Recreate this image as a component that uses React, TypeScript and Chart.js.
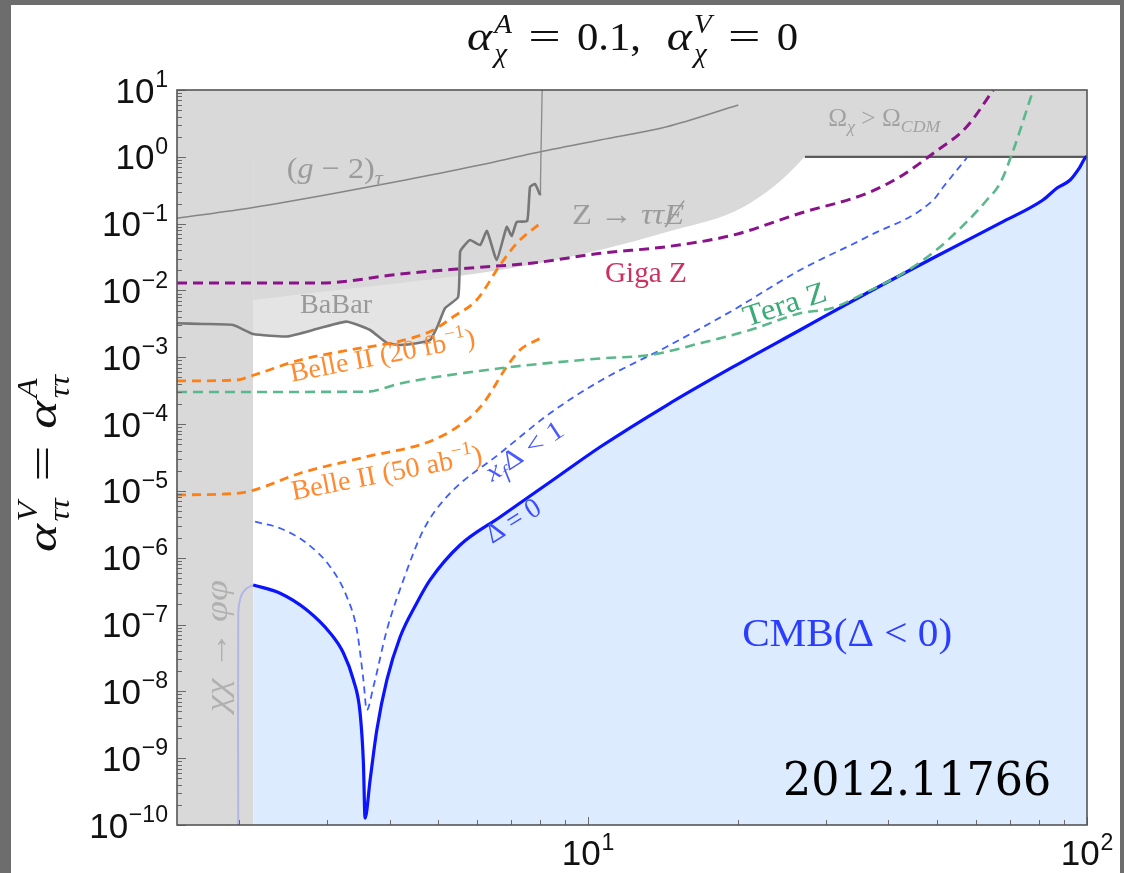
import React, { useEffect, useRef } from 'react';
import { Chart, registerables } from 'chart.js';

Chart.register(...registerables);

// ---------------- axes ----------------
const X_MIN = 1.5;
const X_MAX = 100;
const Y_MIN = 1e-10;
const Y_MAX = 10;
const yTickExponents = [1, 0, -1, -2, -3, -4, -5, -6, -7, -8, -9, -10];
const xTickExponents = [1, 2];

// ---------------- curves ----------------
// Delta = 0 (CMB boundary)
const deltaZeroX = [2.132, 2.414, 2.731, 3.041, 3.233, 3.386, 3.492, 3.546, 3.573, 3.657, 3.772, 3.951, 4.2, 4.536, 4.824, 5.54, 6.663, 7.65, 8.786, 10.57, 14.4, 19.52, 26.6, 36.24, 49.14, 66.96, 81.6, 87.1, 92.5, 96.8, 99.5, 100];
const deltaZeroY = [3.91e-7, 2.94e-7, 1.65e-7, 7.48e-8, 3.75e-8, 1.48e-8, 4.74e-9, 8.48e-10, 1.27e-10, 4.72e-10, 2.64e-9, 1.48e-8, 6.51e-8, 2.1e-7, 4.65e-7, 1.55e-6, 4.07e-6, 8.4e-6, 1.73e-5, 4.54e-5, 1.93e-4, 7.16e-4, 2.56e-3, 9.16e-3, 3.06e-2, 0.102, 0.226, 0.341, 0.45, 0.704, 0.99, 1.0];

// faint continuation inside the chi chi -> phi phi band
const faintX = [1.99, 1.99, 2.01, 2.06, 2.132];
const faintY = [1e-10, 1.49e-7, 2.5e-7, 3.4e-7, 3.91e-7];

// x_f Delta < 1
const xfX = [2.151, 2.414, 2.731, 3.041, 3.284, 3.44, 3.546, 3.601, 3.713, 3.951, 4.265, 4.677, 5.21, 6.663, 8.39, 10.57, 14.38, 19.55, 26.6, 36.2, 49.2, 51.5, 57.4];
const xfY = [3.46e-6, 2.76e-6, 1.64e-6, 7.35e-7, 2.61e-7, 8.29e-8, 1.48e-8, 5.26e-9, 1.17e-8, 8.29e-8, 4.65e-7, 2.6e-6, 8.19e-6, 3.66e-5, 1.45e-4, 4.42e-4, 1.44e-3, 5.1e-3, 2.02e-2, 6.31e-2, 0.226, 0.353, 0.96];

// Giga Z
const gigaX = [1.5, 2.132, 2.903, 4.2, 5.713, 7.76, 10.57, 14.38, 19.55, 26.6, 36.2, 42.2, 49.2, 57.4, 64.9];
const gigaY = [1.29e-2, 1.29e-2, 1.29e-2, 1.76e-2, 2.15e-2, 2.58e-2, 3.6e-2, 4.52e-2, 6.76e-2, 0.143, 0.284, 0.504, 1.13, 2.82, 10];

// Tera Z
const teraX = [1.5, 3.601, 4.2, 6.663, 10.57, 13.31, 16.77, 21.12, 26.6, 31.0, 36.2, 42.2, 49.2, 57.4, 63.0, 66.96, 71.2, 75.7, 78.0];
const teraY = [3.02e-4, 3.05e-4, 4.06e-4, 6.84e-4, 9.59e-4, 1.08e-3, 1.62e-3, 2.56e-3, 4.55e-3, 5.5e-3, 9.48e-3, 1.7e-2, 3.7e-2, 0.106, 0.226, 0.402, 1.265, 5.02, 10];

// Belle II (20 fb^-1)
const belle20X = [1.5, 1.977, 2.14, 2.647, 3.334, 4.2, 4.898, 5.372, 5.98, 6.663, 7.195, 8.014];
const belle20Y = [4.42e-4, 4.57e-4, 5.43e-4, 9.1e-4, 1.29e-3, 1.75e-3, 2.56e-3, 4.05e-3, 7.2e-3, 2.4e-2, 5.08e-2, 0.101];

// Belle II (50 ab^-1)
const belle50X = [1.5, 1.977, 2.14, 2.647, 3.601, 4.898, 5.713, 6.17, 6.87, 7.308, 8.014];
const belle50Y = [8.69e-6, 9.21e-6, 1.03e-5, 1.84e-5, 3.25e-5, 5.78e-5, 1.15e-4, 2.05e-4, 7.23e-4, 1.29e-3, 1.92e-3];

// BaBar bound
const babarX = [1.5, 1.692, 1.944, 2.132, 2.493, 2.903, 3.289, 3.657, 3.951, 4.2, 4.536, 4.824, 5.005, 5.17, 5.49, 5.54, 5.625, 5.8, 6.076, 6.27, 6.56, 6.87, 7.03, 7.195, 7.55, 7.65, 7.83, 8.014];
const babarY = [3.23e-3, 3.15e-3, 3.04e-3, 2.23e-3, 2.05e-3, 2.74e-3, 3.41e-3, 2.56e-3, 1.64e-3, 1.53e-3, 1.62e-3, 1.81e-3, 3.04e-3, 5.46e-3, 7.98e-3, 3.77e-2, 4.52e-2, 5.69e-2, 4.79e-2, 7.76e-2, 2.86e-2, 8.91e-2, 6.53e-2, 0.106, 0.1095, 0.353, 0.392, 0.268];
const babarTopX = [8.014, 8.03, 8.09];
const babarTopY = [0.268, 0.45, 10];

// (g-2)_tau
const g2X = [1.5, 2.132, 3.11, 4.2, 6.076, 7.76, 10.57, 14.38, 20.0];
const g2Y = [0.12, 0.174, 0.284, 0.435, 0.754, 1.13, 1.79, 2.82, 5.97];

// Z -> tau tau + missing E region (lower edge)
const zRegionX = [2.132, 2.903, 4.2, 6.663, 10.57, 14.38, 19.55, 22.8, 25.4, 27.2];
const zRegionY = [7.2e-3, 9.48e-3, 1.29e-2, 2.02e-2, 4.04e-2, 7.5e-2, 0.149, 0.297, 0.593, 1.0];

// Omega_chi > Omega_CDM band (y from 1 to 10)
const omegaX = [1.5, 100];
const omegaY = [1, 1];
const omegaEdgeX = [27.2, 100];
const omegaEdgeY = [1, 1];

// chi chi -> phi phi band
const bandX = [1.5, 2.132];
const bandY = [10, 10];

const pts = (xs: number[], ys: number[]) => xs.map((x, i) => ({ x, y: ys[i] }));

// ---------------- text helpers ----------------
const SERIF = '"Liberation Serif", "DejaVu Serif", serif';
const SANS = '"Liberation Sans", Arial, sans-serif';
const DECO = '"DejaVu Serif", serif';

type Run = { t: string; it?: boolean; s?: number; dy?: number; back?: boolean; gap?: number; dx?: number; sx?: number; slash?: boolean };

function runText(ctx: any, list: Run[], size: number, family: string, draw: boolean): number {
  let x = 0;
  let lastStart = 0;
  let maxX = 0;
  for (const r of list) {
    const fs = size * (r.s ?? 1);
    ctx.font = `${r.it ? 'italic ' : ''}${fs}px ${family}`;
    const w = ctx.measureText(r.t).width * (r.sx ?? 1);
    const sx = (r.back ? lastStart : x + (r.gap ?? 0) * size) + (r.dx ?? 0) * size;
    const sy = (r.dy ?? 0) * size;
    if (draw) {
      ctx.save();
      ctx.translate(sx, sy);
      ctx.scale(r.sx ?? 1, 1);
      ctx.fillText(r.t, 0, 0);
      ctx.restore();
      if (r.slash) {
        ctx.save();
        ctx.strokeStyle = ctx.fillStyle;
        ctx.lineWidth = fs * 0.05;
        ctx.beginPath();
        ctx.moveTo(sx + w * 0.05, fs * 0.1);
        ctx.lineTo(sx + w * 1.0, -fs * 0.78);
        ctx.stroke();
        ctx.restore();
      }
    }
    if (r.back) x = Math.max(x, sx + w);
    else {
      lastStart = sx;
      x = sx + w;
    }
    if (x > maxX) maxX = x;
  }
  return maxX;
}

function drawText(ctx: any, px: number, py: number, o: any) {
  ctx.save();
  ctx.translate(px, py);
  ctx.rotate(((o.angle ?? 0) * Math.PI) / 180);
  const fam = o.family ?? SERIF;
  const w = runText(ctx, o.runs, o.size, fam, false);
  const k = o.fitW ? o.fitW / w : 1;
  const off = o.align === 'center' ? (-w * k) / 2 : o.align === 'right' ? -w * k : 0;
  ctx.translate(off, 0);
  ctx.scale(k, 1);
  ctx.fillStyle = o.color;
  ctx.textAlign = 'left';
  ctx.textBaseline = 'alphabetic';
  runText(ctx, o.runs, o.size, fam, true);
  ctx.restore();
}

// ---------------- labels (placed in data coordinates) ----------------
const LABELS = [
  { runs: [{ t: '(' }, { t: 'g', it: true }, { t: ' − 2)' }, { t: 'τ', it: true, s: 0.7, dy: 0.22 }], x: 2.49, y: 0.482, size: 30, color: '#9b9b9b', fitW: 96 },
  { runs: [{ t: 'Z → ' }, { t: 'ττ', it: true }, { t: 'E', it: true, slash: true }], x: 9.29, y: 0.0988, size: 30, color: '#9b9b9b', fitW: 112 },
  { runs: [{ t: 'Ω' }, { t: 'χ', it: true, s: 0.7, dy: 0.22 }, { t: ' > ' }, { t: 'Ω' }, { t: 'CDM', it: true, s: 0.7, dy: 0.22 }], x: 30.3, y: 2.89, size: 25, color: '#a2a2a2', fitW: 112 },
  { runs: [{ t: 'BaBar' }], x: 2.647, y: 4.6e-3, size: 27, color: '#999999', fitW: 72 },
  { runs: [{ t: 'Giga Z' }], x: 10.81, y: 1.34e-2, size: 29, color: '#cc3060', fitW: 82 },
  { runs: [{ t: 'Tera Z' }], x: 20.8, y: 2.87e-3, size: 30, color: '#3daa78', angle: -18, fitW: 86 },
  { runs: [{ t: 'Belle II (20 fb' }, { t: '−1', s: 0.68, dy: -0.42 }, { t: ')' }], x: 2.548, y: 4.31e-4, size: 27, color: '#ff8a30', angle: -11, fitW: 188 },
  { runs: [{ t: 'Belle II (50 ab' }, { t: '−1', s: 0.68, dy: -0.42 }, { t: ')' }], x: 2.564, y: 7.31e-6, size: 28, color: '#ff8a30', angle: -11, fitW: 194 },
  { runs: [{ t: 'x', it: true }, { t: 'f', it: true, s: 0.7, dy: 0.22 }, { t: 'Δ < 1' }], x: 6.42, y: 1.36e-5, size: 27, color: '#4a5aff', angle: -33, fitW: 88 },
  { runs: [{ t: 'Δ = 0' }], x: 6.42, y: 1.6e-6, size: 28, color: '#3a4cff', angle: -32, fitW: 60 },
  { runs: [{ t: 'CMB(Δ < 0)' }], x: 20.36, y: 4.78e-8, size: 40, color: '#2b3dff', fitW: 210 },
  { runs: [{ t: '2012.11766' }], x: 24.6, y: 2.81e-10, size: 46, color: '#000000', family: DECO, fitW: 268 },
  { runs: [{ t: 'χχ', it: true }, { t: ' → ' }, { t: 'φφ', it: true }], x: 1.886, y: 4.91e-9, size: 32, color: '#b0b0b0', angle: -90, fitW: 132 },
];

const TITLE_RUNS: Run[] = [
  { t: 'α', it: true, sx: 1.12 },
  { t: 'A', it: true, s: 0.68, dy: -0.42, gap: 0.05 },
  { t: 'χ', it: true, s: 0.68, dy: 0.3, back: true },
  { t: '=', gap: 0.38, sx: 1.35 },
  { t: '0.1,', gap: 0.38 },
  { t: 'α', it: true, gap: 0.6, sx: 1.12 },
  { t: 'V', it: true, s: 0.68, dy: -0.42, gap: 0.05 },
  { t: 'χ', it: true, s: 0.68, dy: 0.3, back: true },
  { t: '=', gap: 0.38, sx: 1.35 },
  { t: '0', gap: 0.38 },
];

const YTITLE_RUNS: Run[] = [
  { t: 'α', it: true, sx: 1.12 },
  { t: 'V', it: true, s: 0.68, dy: -0.45, gap: 0.05 },
  { t: 'ττ', it: true, s: 0.68, dy: 0.3, back: true },
  { t: '=', gap: 0.35, sx: 1.35 },
  { t: 'α', it: true, gap: 0.35, sx: 1.12 },
  { t: 'A', it: true, s: 0.68, dy: -0.45, gap: 0.05 },
  { t: 'ττ', it: true, s: 0.68, dy: 0.3, back: true },
];

const overlayPlugin = {
  id: 'overlay',
  afterDatasetsDraw(chart: any) {
    const ctx = chart.ctx;
    const xs = chart.scales.x;
    const ys = chart.scales.y;
    const a = chart.chartArea;
    ctx.save();
    ctx.beginPath();
    ctx.rect(a.left, a.top, a.right - a.left, a.bottom - a.top);
    ctx.clip();
    for (const L of LABELS) {
      drawText(ctx, xs.getPixelForValue(L.x), ys.getPixelForValue(L.y), L);
    }
    ctx.restore();
  },
  afterDraw(chart: any) {
    const ctx = chart.ctx;
    const a = chart.chartArea;
    const xs = chart.scales.x;
    const ys = chart.scales.y;

    // tick marks (inward, left and bottom)
    ctx.save();
    ctx.strokeStyle = '#6a6a6a';
    ctx.lineWidth = 1;
    for (let e = -10; e <= 1; e++) {
      for (let m = 1; m <= 9; m++) {
        const v = m * Math.pow(10, e);
        if (v < Y_MIN * 0.999 || v > Y_MAX * 1.001) continue;
        const py = Math.round(ys.getPixelForValue(v)) + 0.5;
        const len = m === 1 ? 9 : 5;
        ctx.beginPath();
        ctx.moveTo(a.left, py);
        ctx.lineTo(a.left + len, py);
        ctx.stroke();
      }
    }
    for (let e = 0; e <= 2; e++) {
      for (let m = 1; m <= 9; m++) {
        const v = m * Math.pow(10, e);
        if (v < X_MIN || v > X_MAX * 1.001) continue;
        const px = Math.round(xs.getPixelForValue(v)) + 0.5;
        const len = m === 1 ? 8 : 5;
        ctx.beginPath();
        ctx.moveTo(px, a.bottom);
        ctx.lineTo(px, a.bottom - len);
        ctx.stroke();
      }
    }
    ctx.restore();

    // frame
    ctx.save();
    ctx.strokeStyle = '#555555';
    ctx.lineWidth = 1.6;
    ctx.strokeRect(a.left, a.top, a.right - a.left, a.bottom - a.top);
    ctx.restore();

    // y tick labels
    for (const e of yTickExponents) {
      const py = ys.getPixelForValue(Math.pow(10, e));
      const runs: Run[] = [{ t: '10' }, { t: e < 0 ? '−' + Math.abs(e) : String(e), s: 0.66, dy: -0.44, gap: 0.02 }];
      drawText(ctx, a.left - 9, py + 12.5, { runs, size: 35, family: SANS, color: '#111', align: 'right' });
    }
    // x tick labels
    for (const e of xTickExponents) {
      const px = xs.getPixelForValue(Math.pow(10, e));
      const runs: Run[] = [{ t: '10' }, { t: String(e), s: 0.66, dy: -0.44, gap: 0.02 }];
      drawText(ctx, px, a.bottom + 40, { runs, size: 35, family: SANS, color: '#111', align: 'center' });
    }

    // title
    drawText(ctx, 467, 50, { runs: TITLE_RUNS, size: 40, color: '#111', family: SERIF, fitW: 331 });
    // y-axis title
    drawText(ctx, 56, 552, { runs: YTITLE_RUNS, size: 42, color: '#111', family: SERIF, angle: -90, fitW: 177 });
  },
};

function lineDs(data: any, color: string, width: number, dash: number[], order: number, extra: any = {}) {
  return {
    data,
    borderColor: color,
    borderWidth: width,
    borderDash: dash,
    pointRadius: 0,
    fill: false,
    order,
    cubicInterpolationMode: 'monotone',
    ...extra,
  };
}

function fillDs(data: any, color: string, fill: string, order: number, extra: any = {}) {
  return {
    data,
    borderColor: 'rgba(0,0,0,0)',
    borderWidth: 0,
    backgroundColor: color,
    pointRadius: 0,
    fill,
    order,
    ...extra,
  };
}

export default function App() {
  const ref = useRef<HTMLCanvasElement>(null);

  useEffect(() => {
    const canvas = ref.current;
    if (!canvas) return;
    const chart = new Chart(canvas, {
      type: 'line',
      data: {
        datasets: [
          lineDs(pts(deltaZeroX, deltaZeroY), '#0a14ff', 3.2, [], 5, { fill: 'start', backgroundColor: '#dcebfd' }),
          lineDs(pts(teraX, teraY), '#5ab88c', 2.6, [10, 6], 1),
          lineDs(pts(xfX, xfY), '#3f5cff', 1.8, [7, 5], 4),
          lineDs(pts(gigaX, gigaY), '#8a1389', 3, [10, 6], 2),
          lineDs(pts(belle20X, belle20Y), '#ff7f12', 2.8, [9, 6], 3),
          lineDs(pts(belle50X, belle50Y), '#ff7f12', 2.8, [9, 6], 3),
          lineDs(pts(babarX, babarY), '#777777', 2.6, [], 6, { cubicInterpolationMode: 'default', tension: 0.15 }),
          lineDs(pts(babarTopX, babarTopY), '#8a8a8a', 1.3, [], 6, { cubicInterpolationMode: 'default' }),
          lineDs(pts(g2X, g2Y), '#858585', 1.5, [], 6),
          lineDs(pts(omegaEdgeX, omegaEdgeY), '#5a5a5a', 2.2, [], 6, { cubicInterpolationMode: 'default' }),
          lineDs(pts(faintX, faintY), 'rgba(170,175,235,0.85)', 2, [], 6, { cubicInterpolationMode: 'default', tension: 0.3 }),
          fillDs(pts(babarX.concat(babarTopX.slice(1)), babarY.concat(babarTopY.slice(1))), '#e4e4e4', 'end', 50, { tension: 0.15 }),
          fillDs(pts(zRegionX, zRegionY), '#d9d9d9', 'end', 40, { cubicInterpolationMode: 'monotone' }),
          fillDs(pts(omegaX, omegaY), '#d9d9d9', 'end', 30),
          fillDs(pts(bandX, bandY), '#d9d9d9', 'start', 20),
        ] as any,
      },
      options: {
        animation: false,
        responsive: false,
        devicePixelRatio: 1,
        events: [],
        layout: { padding: { left: 177, top: 90, right: 37, bottom: 48 } },
        plugins: {
          legend: { display: false },
          tooltip: { enabled: false },
          filler: { drawTime: 'beforeDatasetsDraw', propagate: false },
        } as any,
        scales: {
          x: {
            type: 'logarithmic',
            min: X_MIN,
            max: X_MAX,
            display: false,
            afterFit: (s: any) => { s.height = 0; },
          },
          y: {
            type: 'logarithmic',
            min: Y_MIN,
            max: Y_MAX,
            display: false,
            afterFit: (s: any) => { s.width = 0; },
          },
        } as any,
      },
      plugins: [overlayPlugin],
    } as any);
    return () => chart.destroy();
  }, []);

  return (
    <div style={{ position: 'fixed', left: 0, top: 0, width: 1124, height: 873, background: '#6d6d6d', overflow: 'hidden' }}>
      <div style={{ position: 'absolute', left: 11, top: 5, width: 1109, height: 868, background: '#ffffff' }} />
      <canvas ref={ref} width={1124} height={873} style={{ position: 'absolute', left: 0, top: 0, width: 1124, height: 873 }} />
    </div>
  );
}
